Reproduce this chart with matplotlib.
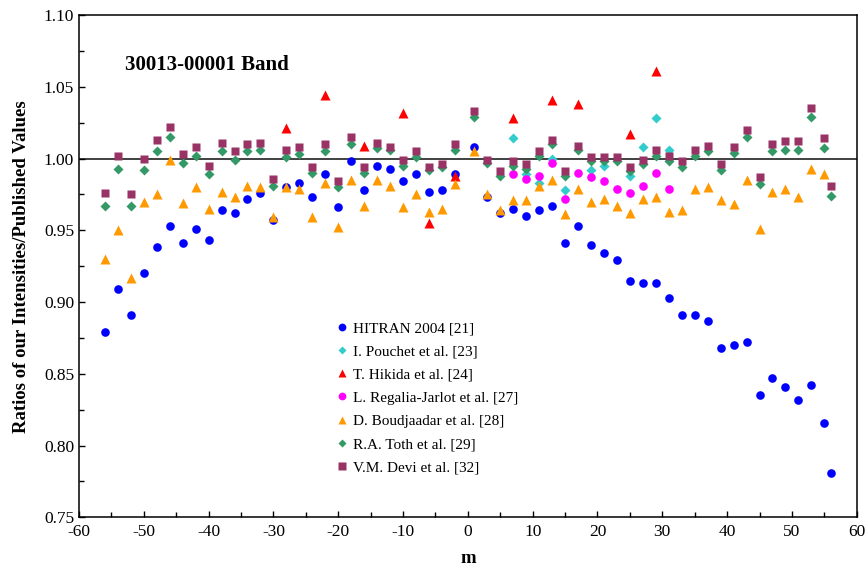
import matplotlib
matplotlib.use("Agg")
import matplotlib.pyplot as plt
from matplotlib.ticker import MultipleLocator, FormatStrFormatter

plt.rcParams['font.family'] = ['Liberation Serif', 'DejaVu Serif']
plt.rcParams['axes.unicode_minus'] = False

# m values (P branch even, R branch odd, plus last point)
m_full = [-56, -54, -52, -50, -48, -46, -44, -42, -40, -38, -36, -34, -32, -30,
          -28, -26, -24, -22, -20, -18, -16, -14, -12, -10, -8, -6, -4, -2,
          1, 3, 5, 7, 9, 11, 13, 15, 17, 19, 21, 23, 25, 27, 29, 31, 33, 35,
          37, 39, 41, 43, 45, 47, 49, 51, 53, 55, 56]

hitran = [0.879, 0.909, 0.891, 0.920, 0.938, 0.953, 0.941, 0.951, 0.943, 0.964,
          0.962, 0.972, 0.976, 0.957, 0.980, 0.983, 0.973, 0.989, 0.966, 0.998,
          0.978, 0.995, 0.993, 0.984, 0.989, 0.977, 0.978, 0.989,
          1.008, 0.973, 0.962, 0.965, 0.960, 0.964, 0.967, 0.941, 0.953, 0.940,
          0.934, 0.929, 0.915, 0.913, 0.913, 0.903, 0.891, 0.891, 0.887, 0.868,
          0.870, 0.872, 0.835, 0.847, 0.841, 0.832, 0.842, 0.816, 0.781]

m_pouchet = [7, 9, 11, 13, 15, 19, 21, 25, 27, 29, 31]
pouchet = [1.014, 0.989, 0.983, 1.000, 0.978, 0.992, 0.995, 0.988, 1.008, 1.028, 1.006]

m_hikida = [-28, -22, -16, -10, -6, -2, 7, 13, 17, 25, 29]
hikida = [1.021, 1.044, 1.009, 1.032, 0.955, 0.988, 1.028, 1.041, 1.038, 1.017, 1.061]

m_regalia = [7, 9, 11, 13, 15, 17, 19, 21, 23, 25, 27, 29, 31]
regalia = [0.989, 0.986, 0.988, 0.997, 0.972, 0.990, 0.987, 0.984, 0.979, 0.976,
           0.981, 0.990, 0.979]

m_boud = m_full[:-1]
boud = [0.930, 0.950, 0.917, 0.970, 0.975, 0.999, 0.969, 0.980, 0.965, 0.977,
        0.973, 0.981, 0.980, 0.959, 0.980, 0.979, 0.959, 0.983, 0.952, 0.985,
        0.967, 0.985, 0.981, 0.966, 0.975, 0.963, 0.965, 0.982,
        1.005, 0.975, 0.964, 0.971, 0.971, 0.981, 0.985, 0.961, 0.979, 0.970,
        0.972, 0.967, 0.962, 0.972, 0.973, 0.963, 0.964, 0.979, 0.980, 0.971,
        0.968, 0.985, 0.951, 0.977, 0.979, 0.973, 0.993, 0.989]

toth = [0.967, 0.993, 0.967, 0.992, 1.005, 1.015, 0.997, 1.002, 0.989, 1.005,
        0.999, 1.005, 1.006, 0.981, 1.001, 1.003, 0.990, 1.005, 0.980, 1.010,
        0.990, 1.007, 1.006, 0.995, 1.001, 0.992, 0.994, 1.006,
        1.029, 0.997, 0.988, 0.995, 0.993, 1.002, 1.010, 0.988, 1.006, 0.998,
        0.998, 0.998, 0.991, 0.996, 1.002, 0.998, 0.994, 1.002, 1.005, 0.992,
        1.004, 1.015, 0.982, 1.005, 1.006, 1.006, 1.029, 1.007, 0.974]

devi = [0.976, 1.002, 0.975, 1.000, 1.013, 1.022, 1.003, 1.008, 0.995, 1.011,
        1.005, 1.010, 1.011, 0.986, 1.006, 1.008, 0.994, 1.010, 0.984, 1.015,
        0.994, 1.011, 1.008, 0.999, 1.005, 0.994, 0.996, 1.010,
        1.033, 0.999, 0.991, 0.998, 0.996, 1.005, 1.013, 0.991, 1.009, 1.001,
        1.001, 1.001, 0.994, 0.999, 1.006, 1.002, 0.998, 1.006, 1.009, 0.996,
        1.008, 1.020, 0.987, 1.010, 1.012, 1.012, 1.035, 1.014, 0.981]

fig = plt.figure(figsize=(8.66, 5.72), dpi=100)
ax = fig.add_axes([0.0912, 0.0956, 0.8981, 0.8782])

ax.axhline(1.0, color='#404040', lw=1.4, zorder=1)

ax.plot(m_full, hitran, 'o', color='#0000ff', ms=6.2, mec='none', label='HITRAN 2004 [21]')
ax.plot(m_pouchet, pouchet, 'D', color='#33cccc', ms=5.0, mec='none', label='I. Pouchet et al. [23]')
ax.plot(m_hikida, hikida, '^', color='#ff0000', ms=6.8, mec='none', label='T. Hikida et al. [24]')
ax.plot(m_regalia, regalia, 'o', color='#ff00ff', ms=6.2, mec='none', label='L. Regalia-Jarlot et al. [27]')
ax.plot(m_boud, boud, '^', color='#ff9900', ms=6.8, mec='none', label='D. Boudjaadar et al. [28]')
ax.plot(m_full, toth, 'D', color='#339966', ms=5.0, mec='none', label='R.A. Toth et al. [29]')
ax.plot(m_full, devi, 's', color='#993366', ms=6.4, mec='none', label='V.M. Devi et al. [32]')

ax.set_xlim(-60, 60)
ax.set_ylim(0.75, 1.10)
ax.xaxis.set_major_locator(MultipleLocator(10))
ax.xaxis.set_minor_locator(MultipleLocator(5))
ax.yaxis.set_major_locator(MultipleLocator(0.05))
ax.yaxis.set_minor_locator(MultipleLocator(0.025))
ax.yaxis.set_major_formatter(FormatStrFormatter('%.2f'))
ax.tick_params(which='both', direction='in', top=False, right=False, labelsize=12.5)
ax.tick_params(which='major', length=4.5, width=1)
ax.tick_params(which='minor', length=3.5, width=1)
ax.tick_params(axis='x', pad=5)
for s in ax.spines.values():
    s.set_linewidth(1.1)

ax.set_xlabel('m', fontsize=13.5, fontweight='bold', labelpad=7)
ax.set_ylabel('Ratios of our Intensities/Published Values', fontsize=13.5, fontweight='bold', labelpad=10)

ax.text(-52.9, 1.065, '30013-00001 Band', fontsize=15, fontweight='bold', ha='left', va='center')

ax.legend(loc='upper left', bbox_to_anchor=(0.321, 0.405), frameon=False, fontsize=11,
          handlelength=0.8, handletextpad=0.3, labelspacing=0.62, borderpad=0, markerscale=0.9)

fig.savefig('out.png', dpi=100)
